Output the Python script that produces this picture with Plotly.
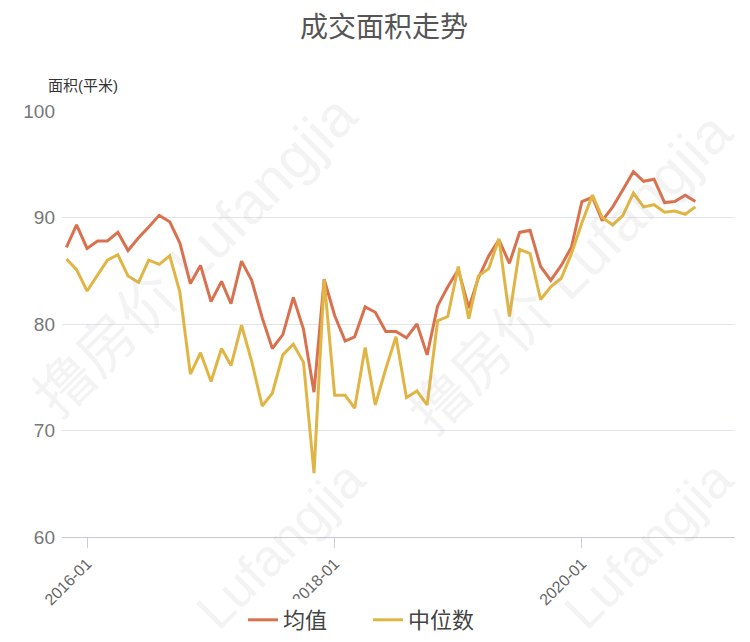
import plotly.graph_objects as go
import pandas as pd

months = [d.strftime("%Y-%m-01") for d in pd.date_range("2015-11-01", "2020-12-01", freq="MS")]

mean_area = [87.2, 89.3, 87.1, 87.8, 87.8, 88.6, 86.9, 88.1, 89.1, 90.2, 89.6, 87.6,
             83.8, 85.5, 82.1, 84.0, 81.9, 85.9, 84.1, 80.6, 77.7, 79.0, 82.5, 79.5, 73.6,
             84.2, 80.8, 78.4, 78.8, 81.6, 81.1, 79.3, 79.3, 78.7, 80.0, 77.1,
             81.7, 83.5, 85.1, 81.5, 84.3, 86.4, 87.9, 85.7, 88.6, 88.8, 85.4, 84.1, 85.5, 87.2,
             91.5, 91.9, 89.7, 91.0, 92.6, 94.3, 93.4, 93.6, 91.4, 91.5, 92.1, 91.5]

median_area = [86.1, 85.1, 83.1, 84.6, 86.0, 86.5, 84.5, 83.9, 86.0, 85.6, 86.4, 83.0,
               75.3, 77.3, 74.6, 77.7, 76.1, 79.9, 76.5, 72.3, 73.5, 77.1, 78.1, 76.4, 66.0,
               84.2, 73.3, 73.3, 72.1, 77.8, 72.4, 75.8, 78.8, 73.1, 73.7, 72.4,
               80.3, 80.7, 85.4, 80.5, 84.5, 85.2, 88.0, 80.7, 87.0, 86.6, 82.3, 83.5, 84.3, 86.6,
               89.5, 92.1, 90.0, 89.3, 90.2, 92.3, 91.0, 91.2, 90.5, 90.6, 90.3, 91.0]

tick_vals = ["2016-01-01", "2018-01-01", "2020-01-01"]
tick_text = ["2016-01", "2018-01", "2020-01"]
y_ticks = [60, 70, 80, 90, 100]

FONT = "Liberation Sans, Noto Sans CJK SC, sans-serif"

# page offset (body margin) and plot box in window pixels
OFF = 8
W, H = 750 - OFF, 642 - OFF
L, R, T, B = 62 - OFF, 735 - OFF, 111 - OFF, 537 - OFF
PW, PH = R - L, B - T


def px(X):
    return (X - OFF - L) / PW


def py(Y):
    return (B - (Y - OFF)) / PH


fig = go.Figure()
fig.add_trace(go.Scatter(x=months, y=mean_area, name="均值", mode="lines",
                         line=dict(color="#d9714f", width=3)))
fig.add_trace(go.Scatter(x=months, y=median_area, name="中位数", mode="lines",
                         line=dict(color="#e0b544", width=3)))

WM_COLOR = "rgba(160,160,160,0.12)"
annotations = []
for (X, Y) in [(195, 255), (570, 272)]:
    annotations.append(dict(text="撸房价 Lufangjia", x=px(X), y=py(Y),
                            xref="paper", yref="paper", showarrow=False, textangle=-45,
                            xanchor="center", yanchor="middle",
                            font=dict(size=58, color=WM_COLOR, family=FONT)))
for (X, Y) in [(280, 545), (648, 545)]:
    annotations.append(dict(text="Lufangjia", x=px(X), y=py(Y),
                            xref="paper", yref="paper", showarrow=False, textangle=-45,
                            xanchor="center", yanchor="middle",
                            font=dict(size=52, color=WM_COLOR, family=FONT)))

annotations.append(dict(text="面积(平米)", x=px(83), y=py(85), xref="paper", yref="paper",
                        showarrow=False, xanchor="center", yanchor="middle",
                        font=dict(size=15, color="#333", family=FONT)))

fig.update_layout(
    width=W, height=H,
    margin=dict(l=L, r=W - R, t=T, b=H - B, autoexpand=False),
    paper_bgcolor="white", plot_bgcolor="white",
    font=dict(family=FONT, color="#666"),
    title=dict(text="成交面积走势", x=px(384), xref="paper", xanchor="center",
               y=1 - (27 - OFF) / H, yanchor="middle",
               font=dict(size=28, color="#555", family=FONT)),
    xaxis=dict(type="date", range=["2015-10-19", "2021-03-28"],
               tickvals=tick_vals, ticktext=tick_text, tickangle=-45,
               ticks="outside", ticklen=10, tickcolor="#ccccdc", tickwidth=1,
               showgrid=False, showline=True, linecolor="#c8c8dc", linewidth=1,
               tickfont=dict(size=16, color="#666"), zeroline=False, automargin=False),
    yaxis=dict(range=[60, 100], tickvals=y_ticks, showgrid=True, gridcolor="#e4e4ec",
               gridwidth=1, zeroline=False, showline=False, ticks="",
               tickfont=dict(size=19, color="#777"), ticklabelstandoff=6, automargin=False),
    legend=dict(orientation="h", x=px(368), xanchor="center", y=py(620), yanchor="middle",
                font=dict(size=22, color="#444"), entrywidth=80, entrywidthmode="pixels"),
    showlegend=True,
    annotations=annotations,
)

fig.write_html("out.html")
